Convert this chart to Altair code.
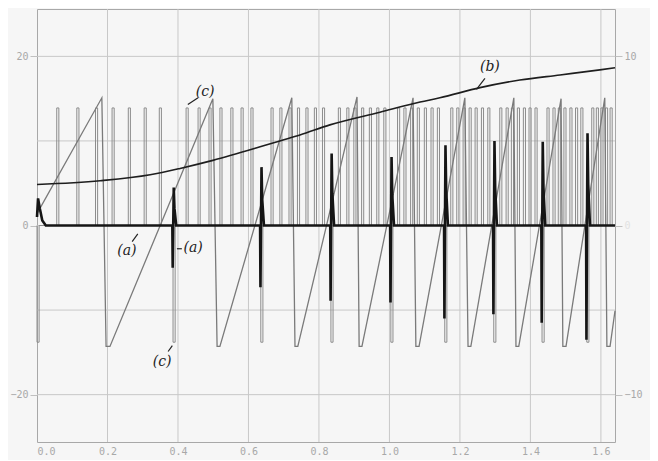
import altair as alt
import pandas as pd

# ---------------- data ----------------
# gray pulse train: upward pulses (t) and downward pulses (t)
pulse_up_t = [0.056, 0.113, 0.166, 0.213, 0.259, 0.304, 0.347,
              0.423, 0.457, 0.488, 0.519, 0.550, 0.579, 0.607,
              0.664, 0.689, 0.715, 0.739, 0.763, 0.787, 0.810,
              0.855, 0.879, 0.899, 0.921, 0.943, 0.964, 0.984,
              1.023, 1.041, 1.060, 1.079, 1.099, 1.118, 1.136,
              1.174, 1.191, 1.209, 1.226, 1.243, 1.261, 1.279,
              1.313, 1.331, 1.346, 1.363, 1.380, 1.396, 1.413,
              1.447, 1.464, 1.479, 1.495, 1.512, 1.528, 1.543,
              1.574, 1.587, 1.600, 1.613, 1.626]
pulse_down_t = [0.0, 0.386, 0.635, 0.834, 1.004, 1.157, 1.296, 1.433, 1.560]
pulse_high = 13.9
pulse_low = -13.8
pulse_w = 0.006

# (c) sawtooth
saw_t = [0.0, 0.184, 0.196, 0.207, 0.499, 0.511, 0.519, 0.723, 0.732, 0.740,
         0.908, 0.914, 0.922, 1.067, 1.075, 1.084, 1.214, 1.223, 1.231,
         1.353, 1.359, 1.367, 1.487, 1.492, 1.501, 1.611, 1.617, 1.626, 1.640]
saw_v = [1.4, 15.1, -14.3, -14.3, 15.0, -14.3, -14.3, 15.1, -14.3, -14.3,
         15.2, -14.3, -14.3, 15.1, -14.3, -14.3, 15.1, -14.3, -14.3,
         15.1, -14.3, -14.3, 15.0, -14.3, -14.3, 15.1, -14.3, -14.3, -10.1]

# (b) smooth curve
b_t = [0.0, 0.179, 0.321, 0.406, 0.499, 0.633, 0.689, 0.746, 0.831, 0.973,
       1.087, 1.143, 1.257, 1.370, 1.484, 1.597, 1.640]
b_v = [4.85, 5.3, 6.0, 6.75, 7.7, 9.3, 10.0, 10.7, 11.9, 13.4,
       14.6, 15.1, 16.3, 17.2, 17.8, 18.4, 18.65]

# (a) trace: start transient, spikes
a_start_t = [0.0, 0.003, 0.008, 0.015, 0.025]
a_start_v = [1.0, 3.2, 2.0, 0.6, 0.0]
spike_t = [0.386, 0.635, 0.834, 1.004, 1.157, 1.296, 1.433, 1.560]
spike_up = [4.5, 6.9, 8.5, 8.1, 9.5, 10.0, 9.9, 10.9]
spike_down = [-5.0, -7.3, -8.9, -9.1, -11.0, -10.5, -11.5, -13.5]
t_end = 1.64

# axes / grid
x_ticks = [0.0, 0.2, 0.4, 0.6, 0.8, 1.0, 1.2, 1.4, 1.6]
x_grid = [0.2, 0.4, 0.6, 0.8, 1.0, 1.2, 1.4, 1.6]
y_grid = [-20, -10, 0, 10, 20]
y_left_ticks = [-20, 0, 20]
y_right_ticks = [-10, 0, 10]

# annotations (hand-written labels)
lab_text = ["(c)", "(b)", "(a)", "(a)", "(c)"]
lab_t = [0.477, 1.285, 0.255, 0.443, 0.355]
lab_v = [15.8, 18.7, -3.0, -2.7, -16.1]
lead_t1 = [0.428, 1.247, 0.270, 0.397, 0.372]
lead_v1 = [14.3, 16.1, -1.9, -2.75, -14.9]
lead_t2 = [0.457, 1.271, 0.286, 0.411, 0.384]
lead_v2 = [15.1, 17.4, -1.0, -2.75, -14.2]

# ---------------- build tables ----------------
rows = []
events = [(t, pulse_high) for t in pulse_up_t] + [(t, pulse_low) for t in pulse_down_t]
events.sort()
i = 0
for t, h in events:
    for tt, vv in [(t, 0.0), (t, h), (t + pulse_w, h), (t + pulse_w, 0.0)]:
        rows.append({"t": tt, "v": vv, "o": i})
        i += 1
rows.append({"t": t_end, "v": 0.0, "o": i})
pulse_df = pd.DataFrame(rows)

saw_df = pd.DataFrame({"t": saw_t, "v": saw_v, "o": range(len(saw_t))})
b_df = pd.DataFrame({"t": b_t, "v": b_v})

arows = [(t, v) for t, v in zip(a_start_t, a_start_v)]
for ts, up, dn in zip(spike_t, spike_up, spike_down):
    arows += [(ts - 0.002, 0.0), (ts - 0.001, dn), (ts + 0.0005, 0.0),
              (ts + 0.002, up), (ts + 0.004, up * 0.45), (ts + 0.009, 0.0)]
arows.append((t_end, 0.0))
a_df = pd.DataFrame({"t": [r[0] for r in arows], "v": [r[1] for r in arows],
                     "o": range(len(arows))})

lab_df = pd.DataFrame({"txt": lab_text, "t": lab_t, "v": lab_v})
lead_df = pd.DataFrame({"t1": lead_t1, "v1": lead_v1, "t2": lead_t2, "v2": lead_v2})

XS = alt.Scale(domain=[0, 1.64], nice=False, zero=False)
YS = alt.Scale(domain=[-25.6, 25.6], nice=False, zero=False)
LABC = "#a8a8a8"
FONT = "DejaVu Sans Mono"

x_axis = alt.Axis(values=x_ticks, format=".1f", title=None, grid=False,
                  domain=False, ticks=False, labelPadding=4, labelFont=FONT,
                  labelFontSize=10, labelColor=LABC)
y_axis = alt.Axis(values=y_left_ticks, format="d", title=None, grid=False,
                  domain=False, tickSize=7, tickColor="#c0c0c0", labelPadding=2,
                  labelFont=FONT, labelFontSize=10, labelColor=LABC)

xg = alt.Chart(pd.DataFrame({"x": x_grid})).mark_rule(color="#c8c8c8", strokeWidth=1).encode(
    x=alt.X("x:Q", scale=XS, axis=x_axis))
yg = alt.Chart(pd.DataFrame({"y": y_grid})).mark_rule(color="#c8c8c8", strokeWidth=1).encode(
    y=alt.Y("y:Q", scale=YS, axis=y_axis))

pulses = alt.Chart(pulse_df).mark_line(color="#8c8c8c", strokeWidth=1).encode(
    x=alt.X("t:Q", scale=XS), y=alt.Y("v:Q", scale=YS), order="o:Q")
saw = alt.Chart(saw_df).mark_line(color="#7a7a7a", strokeWidth=1.3).encode(
    x=alt.X("t:Q", scale=XS), y=alt.Y("v:Q", scale=YS), order="o:Q")
bline = alt.Chart(b_df).mark_line(color="#1e1e1e", strokeWidth=1.6, interpolate="monotone").encode(
    x=alt.X("t:Q", scale=XS), y=alt.Y("v:Q", scale=YS))
aline = alt.Chart(a_df).mark_line(color="#151515", strokeWidth=2.6).encode(
    x=alt.X("t:Q", scale=XS), y=alt.Y("v:Q", scale=YS), order="o:Q")

labels = alt.Chart(lab_df).mark_text(font="DejaVu Serif", fontStyle="italic", fontSize=14,
                                     color="#222222").encode(
    x=alt.X("t:Q", scale=XS), y=alt.Y("v:Q", scale=YS), text="txt:N")
leads = alt.Chart(lead_df).mark_rule(color="#222222", strokeWidth=1.2).encode(
    x=alt.X("t1:Q", scale=XS), y=alt.Y("v1:Q", scale=YS), x2="t2:Q", y2="v2:Q")

left = alt.layer(xg, yg, pulses, saw, bline, aline, leads, labels)

right = alt.Chart(pd.DataFrame({"t": [0.0], "r": [0.0]})).mark_point(opacity=0).encode(
    x=alt.X("t:Q", scale=XS),
    y=alt.Y("r:Q", scale=alt.Scale(domain=[-12.8, 12.8], nice=False, zero=False),
            axis=alt.Axis(values=y_right_ticks, format="d", title=None, grid=False,
                          domain=False, orient="right", tickSize=7, tickColor="#c0c0c0",
                          labelPadding=2, labelFont=FONT, labelFontSize=10,
                          labelColor={"condition": {"test": "datum.value == 0", "value": "#e2e2e2"},
                                      "value": LABC})))

chart = alt.layer(left, right).resolve_scale(y="independent").properties(
    width=578, height=433,
    padding={"left": 29, "top": 1, "right": 35, "bottom": 18},
    autosize=alt.AutoSizeParams(type="none"),
    background="#f6f6f6",
).configure_view(stroke="#a8a8a8", strokeWidth=1)

chart.save("out.html", embed_options={"renderer": "svg", "actions": False})
